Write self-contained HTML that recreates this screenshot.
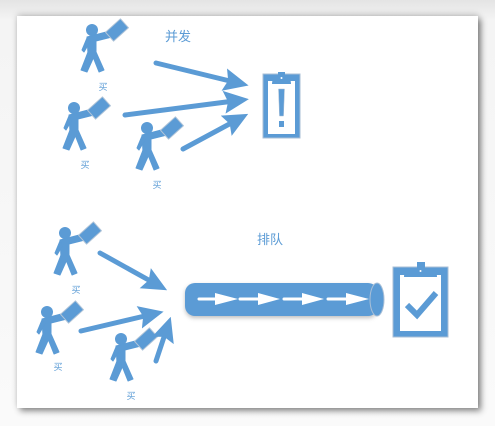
<!DOCTYPE html>
<html><head><meta charset="utf-8"><style>
html,body{margin:0;padding:0;width:495px;height:426px;overflow:hidden;background:linear-gradient(#e4e4e4,#f4f4f4 20px,#fafafa);}
#p{position:absolute;left:17px;top:16px;width:461px;height:392px;background:#fff;box-shadow:3px 3px 6px rgba(0,0,0,0.45),0 -2px 6px rgba(0,0,0,0.15);}
svg{position:absolute;left:0;top:0;}
text{font-family:"Liberation Sans","Noto Sans CJK SC",sans-serif;fill:#5b9bd5;}
</style></head><body>
<div id="p"></div>
<svg width="495" height="426" viewBox="0 0 495 426">
<defs>
<marker id="ah" markerWidth="5" markerHeight="5" refX="2" refY="2.5" orient="auto" markerUnits="strokeWidth"><path d="M0,0.2 L5,2.5 L0,4.8 L0.8,2.5 Z" fill="#5b9bd5"/></marker>
<g id="man" fill="#5b9bd5" stroke="#5b9bd5" stroke-linejoin="round">
<circle cx="0" cy="0" r="6" stroke="none"/>
<path d="M-5,7 L18,1 L20,7 L4,11 L4,24 L-4,24 Z" stroke-width="1"/>
<path d="M-5,8 L-10,20 L-8,22 L-2,12 Z" stroke-width="1"/>
<path d="M-4,22 L4,22 L-5,42 L-11,40 Z" stroke-width="1"/>
<path d="M-1,22 L4,22 L12,40 L7,42 Z" stroke-width="1"/>
<rect x="-6" y="-10" width="12" height="20" transform="translate(25,0) rotate(48)" stroke="#b0c4d8" stroke-width="1"/>
</g>
</defs>
<use href="#man" x="92" y="30"/>
<use href="#man" x="74" y="108"/>
<use href="#man" x="147" y="128"/>
<use href="#man" x="65" y="233"/>
<use href="#man" x="47" y="312"/>
<use href="#man" x="121" y="339"/>
<g font-size="9" text-anchor="middle">
<text x="103" y="90">买</text><text x="85" y="168">买</text><text x="157" y="188">买</text>
<text x="76" y="293">买</text><text x="58" y="370">买</text><text x="131" y="399">买</text>
</g>
<text x="178" y="41" font-size="13" text-anchor="middle">并发</text>
<text x="270" y="244" font-size="13" text-anchor="middle">排队</text>
<g stroke="#5b9bd5" stroke-width="5" stroke-linecap="round" marker-end="url(#ah)">
<line x1="156" y1="63" x2="234" y2="82"/>
<line x1="125" y1="115" x2="234" y2="101"/>
<line x1="183" y1="149" x2="235" y2="121"/>
<line x1="100" y1="253" x2="154" y2="283"/>
<line x1="81" y1="331" x2="149" y2="315"/>
<line x1="156" y1="361" x2="166" y2="331"/>
</g>
<rect x="185" y="283" width="193" height="33" rx="10" fill="#5b9bd5" style="filter:drop-shadow(0 2px 2px rgba(0,0,0,0.25))"/>
<ellipse cx="377" cy="299.5" rx="7" ry="16.5" fill="#5b9bd5" stroke="#a9bfd6" stroke-width="1"/>
<g fill="#fff" stroke="#fff">
<g stroke-width="3" stroke-linecap="round"><line x1="199" y1="299" x2="223" y2="299"/><line x1="240" y1="299" x2="266" y2="299"/><line x1="284" y1="299" x2="310" y2="299"/><line x1="328" y1="299" x2="355" y2="299"/></g>
<path d="M215,293 L238,299 L215,305Z M258,293 L280,299 L258,305Z M302,293 L324,299 L302,305Z M346,293 L369,299 L346,305Z" stroke="none"/>
</g>
<g>
<rect x="263" y="74" width="37" height="64" fill="#5b9bd5" stroke="#a9bfd6"/>
<rect x="268" y="81" width="27" height="53" fill="#fff"/>
<path d="M272,84 Q272,76 280,76 L283,76 Q291,76 291,84 Z" fill="#5b9bd5"/>
<rect x="278" y="72" width="7" height="5" fill="#5b9bd5"/>
<circle cx="281.5" cy="78" r="1" fill="#fff"/>
<path d="M278.5,89 L284.5,89 L283.5,116 L279.5,116 Z" fill="#5b9bd5" stroke="#a9bfd6" stroke-width="0.5"/>
<rect x="279" y="121" width="5" height="6" fill="#5b9bd5"/>
</g>
<g>
<rect x="393" y="267" width="55" height="70" fill="#5b9bd5" stroke="#a9bfd6"/>
<rect x="400" y="275" width="41" height="56" fill="#fff"/>
<path d="M404,277 Q404,268 413,268 L428,268 Q437,268 437,277 Z" fill="#5b9bd5"/>
<rect x="417" y="262" width="8" height="7" fill="#5b9bd5"/>
<circle cx="420.5" cy="271" r="1" fill="#fff"/>
<path d="M407,305 L417,315 L436,293" fill="none" stroke="#5b9bd5" stroke-width="6"/>
</g>
</svg>
</body></html>
